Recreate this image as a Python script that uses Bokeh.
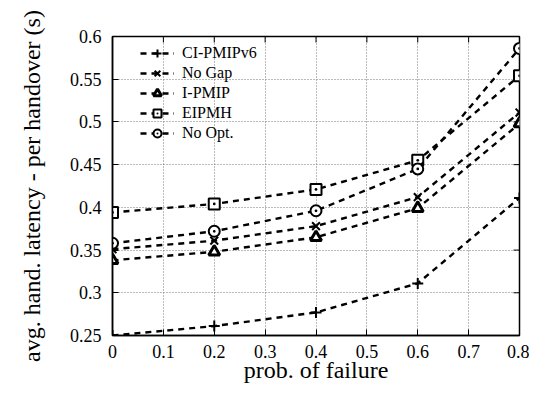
from bokeh.plotting import figure
from bokeh.models import Range1d, FixedTicker, Legend, LegendItem
from bokeh.embed import file_html
from bokeh.resources import INLINE

# ---- data ----
x_vals = [0, 0.2, 0.4, 0.6, 0.8]
ci_pmipv6 = [0.250, 0.261, 0.277, 0.311, 0.411]
no_gap = [0.351, 0.361, 0.378, 0.412, 0.511]
i_pmip = [0.338, 0.348, 0.365, 0.399, 0.498]
eipmh = [0.394, 0.404, 0.421, 0.455, 0.554]
no_opt = [0.358, 0.372, 0.396, 0.445, 0.586]

series_names = ["CI-PMIPv6", "No Gap", "I-PMIP", "EIPMH", "No Opt."]
series_values = [ci_pmipv6, no_gap, i_pmip, eipmh, no_opt]
series_markers = ["cross", "x", "triangle", "square_dot", "circle_dot"]

x_tick_vals = [0, 0.1, 0.2, 0.3, 0.4, 0.5, 0.6, 0.7, 0.8]
x_tick_labels = ["0", "0.1", "0.2", "0.3", "0.4", "0.5", "0.6", "0.7", "0.8"]
y_tick_vals = [0.25, 0.3, 0.35, 0.4, 0.45, 0.5, 0.55, 0.6]
y_tick_labels = ["0.25", "0.3", "0.35", "0.4", "0.45", "0.5", "0.55", "0.6"]

FONT = "Liberation Serif"
X0, X1 = 0.0, 0.8
Y0, Y1 = 0.25, 0.6

W, H = 529, 387
BL, BR, BT, BB = 112, 10, 36, 52

p = figure(width=W, height=H, output_backend="svg", toolbar_location=None,
           x_range=Range1d(X0, X1), y_range=Range1d(Y0, Y1),
           min_border_left=BL, min_border_right=BR, min_border_top=BT, min_border_bottom=BB)
p.background_fill_color = "white"
p.border_fill_color = "white"
p.outline_line_color = "black"
p.outline_line_width = 1.5

for ax in (p.xaxis[0], p.yaxis[0]):
    ax.major_tick_in = 6
    ax.major_tick_out = 0
    ax.minor_tick_in = 0
    ax.minor_tick_out = 0
    ax.axis_line_color = "black"
    ax.axis_line_width = 1.5
    ax.major_tick_line_color = "black"
    ax.major_tick_line_width = 1
    ax.major_label_text_font = FONT
    ax.major_label_text_font_size = "18px"
    ax.major_label_text_color = "black"
    ax.axis_label_text_font = FONT
    ax.axis_label_text_font_size = "24px"
    ax.axis_label_text_font_style = "normal"
    ax.axis_label_text_color = "black"

p.xaxis.ticker = FixedTicker(ticks=x_tick_vals)
p.xaxis.major_label_overrides = {v: s for v, s in zip(x_tick_vals, x_tick_labels)}
p.yaxis.ticker = FixedTicker(ticks=y_tick_vals)
p.yaxis.major_label_overrides = {v: s for v, s in zip(y_tick_vals, y_tick_labels)}
p.xaxis.axis_label = "prob. of failure"
p.yaxis.axis_label = "avg. hand. latency - per handover (s)"
p.xaxis.major_label_standoff = 9
p.xaxis.axis_label_standoff = -4
p.yaxis.major_label_standoff = 11
p.yaxis.axis_label_standoff = 22

p.grid.grid_line_color = "#777777"
p.grid.grid_line_dash = "1 2"
p.grid.grid_line_width = 1
p.xgrid.ticker = FixedTicker(ticks=x_tick_vals)
p.ygrid.ticker = FixedTicker(ticks=y_tick_vals)

# mirrored inward ticks on the top and right frame edges (6 px long)
frame_w = W - BL - BR
frame_h = H - BT - BB
dx = 6 * (X1 - X0) / frame_w
dy = 6 * (Y1 - Y0) / frame_h
p.segment(x0=x_tick_vals, y0=[Y1] * len(x_tick_vals), x1=x_tick_vals,
          y1=[Y1 - dy] * len(x_tick_vals), line_color="black", line_width=1)
p.segment(x0=[X1] * len(y_tick_vals), y0=y_tick_vals, x1=[X1 - dx] * len(y_tick_vals),
          y1=y_tick_vals, line_color="black", line_width=1)

items = []
for name, vals, mk in zip(series_names, series_values, series_markers):
    ln = p.line(x_vals, vals, line_color="black", line_width=2.4, line_dash="6 5")
    lw = 3 if mk == "triangle" else 2
    sc = p.scatter(x_vals, vals, marker=mk, size=11, line_color="black", line_width=lw,
                   fill_color="white")
    items.append(LegendItem(label=name, renderers=[ln, sc]))

legend = Legend(items=items, location=(26, frame_h - 5 - 104))
legend.label_text_font = FONT
legend.label_text_font_size = "16px"
legend.label_text_color = "black"
legend.background_fill_alpha = 0
legend.border_line_alpha = 0
legend.spacing = 0
legend.padding = 2
legend.margin = 0
legend.label_height = 20
legend.glyph_height = 20
legend.glyph_width = 34
legend.label_standoff = 8
p.add_layout(legend)

open("out.html", "w").write(file_html(p, INLINE))
